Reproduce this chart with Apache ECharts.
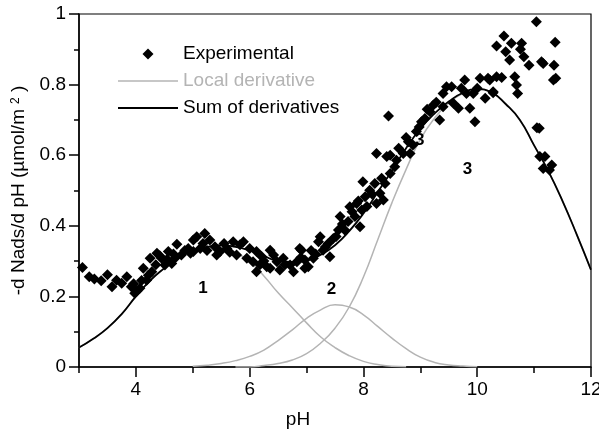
<!DOCTYPE html>
<html><head><meta charset="utf-8">
<script src="https://cdn.jsdelivr.net/npm/echarts@6/dist/echarts.min.js"></script>
<style>html,body{margin:0;padding:0;background:#fff}#c{width:599px;height:431px}</style>
</head><body><div id="c"></div>
<script>
// ---- data ----
const expPH = [
3.06,3.18,3.27,3.39,3.50,3.58,3.66,3.75,3.84,3.92,3.98,4.07,4.13,4.19,4.28,4.25,4.37,4.45,4.51,4.63,4.57,4.72,4.80,4.92,5.01,4.10,4.22,4.35,4.42,4.55,4.66,4.70,4.86,4.96,4.02,3.96,
5.07,5.21,5.30,5.39,5.48,5.71,5.83,5.89,6.00,6.12,6.21,6.36,6.42,6.48,6.59,6.71,6.88,6.83,6.97,6.12,6.30,6.53,5.01,5.13,5.42,5.60,5.77,5.95,6.06,6.36,6.77,5.18,5.25,5.55,5.65,6.18,6.25,6.62,6.90,
6.91,6.97,7.03,7.12,7.21,7.29,7.38,7.41,7.47,7.56,7.59,7.67,7.73,7.85,7.88,7.94,7.97,8.03,7.99,8.11,8.20,8.29,8.35,8.23,8.38,8.47,8.55,8.41,8.23,7.24,7.76,8.44,7.08,7.16,7.33,7.52,7.63,7.80,7.91,8.06,8.15,8.32,
8.47,8.58,8.70,8.79,8.87,8.93,9.02,9.08,9.17,9.23,9.34,9.40,9.46,9.55,9.58,9.67,9.78,9.87,9.96,9.81,9.93,10.05,10.14,10.19,10.28,10.34,9.40,8.82,8.62,8.75,8.98,9.12,9.28,9.72,10.00,
11.04,10.47,10.34,10.60,10.50,10.78,10.76,10.57,10.82,10.91,11.16,11.35,11.37,11.34,10.22,10.43,10.66,10.69,10.71,10.28,11.09,11.10,11.19,11.16,11.31,11.27,11.13,11.38,11.05
];
const expVal = [
0.282,0.256,0.249,0.244,0.261,0.227,0.246,0.237,0.256,0.227,0.209,0.223,0.280,0.246,0.270,0.308,0.322,0.308,0.289,0.293,0.327,0.348,0.317,0.336,0.360,0.245,0.260,0.290,0.315,0.305,0.320,0.310,0.330,0.322,0.215,0.236,
0.369,0.378,0.360,0.341,0.327,0.355,0.346,0.355,0.336,0.327,0.313,0.331,0.317,0.298,0.308,0.289,0.336,0.298,0.280,0.270,0.284,0.275,0.327,0.336,0.317,0.336,0.317,0.308,0.298,0.280,0.270,0.350,0.330,0.350,0.325,0.290,0.300,0.290,0.310,
0.331,0.303,0.284,0.308,0.355,0.331,0.350,0.312,0.364,0.388,0.426,0.388,0.412,0.426,0.463,0.397,0.445,0.482,0.525,0.501,0.520,0.492,0.473,0.463,0.520,0.548,0.567,0.596,0.605,0.369,0.454,0.711,0.330,0.320,0.340,0.370,0.405,0.440,0.470,0.455,0.490,0.535,
0.600,0.586,0.605,0.638,0.629,0.667,0.695,0.704,0.723,0.742,0.700,0.737,0.794,0.794,0.747,0.733,0.813,0.733,0.695,0.775,0.775,0.818,0.761,0.818,0.780,0.822,0.775,0.605,0.620,0.650,0.680,0.730,0.750,0.790,0.790,
0.978,0.938,0.909,0.917,0.893,0.917,0.900,0.870,0.879,0.855,0.860,0.855,0.920,0.813,0.813,0.820,0.822,0.799,0.775,0.777,0.676,0.596,0.596,0.562,0.572,0.558,0.865,0.818,0.678
];
const curvePH = [3.0,3.25,3.5,3.75,4.0,4.25,4.5,4.75,5.0,5.25,5.5,5.75,6.0,6.25,6.5,6.75,7.0,7.25,7.5,7.75,8.0,8.25,8.5,8.75,9.0,9.25,9.5,9.75,10.0,10.25,10.5,10.75,11.0,11.25,11.5,11.75,12.0];
const sumVal = [0.055,0.08,0.11,0.15,0.2,0.245,0.28,0.31,0.33,0.34,0.345,0.34,0.33,0.315,0.3,0.298,0.302,0.318,0.345,0.385,0.435,0.495,0.556,0.62,0.675,0.718,0.752,0.777,0.787,0.778,0.745,0.70,0.628,0.555,0.47,0.375,0.275];
const local1Val = [0.055,0.08,0.11,0.15,0.2,0.245,0.28,0.31,0.328,0.338,0.34,0.325,0.298,0.258,0.21,0.168,0.125,0.085,0.055,0.032,0.016,0.007,0.002,0.001,null,null,null,null,null,null,null,null,null,null,null,null,null];
const local2Val = [null,null,null,null,null,null,null,null,0.002,0.005,0.01,0.018,0.03,0.048,0.075,0.105,0.138,0.162,0.176,0.17,0.148,0.115,0.082,0.052,0.028,0.013,0.006,0.003,0.001,null,null,null,null,null,null,null,null];
const local3Val = [null,null,null,null,null,null,null,null,null,null,null,0.0,0.0,0.004,0.01,0.02,0.038,0.068,0.11,0.17,0.255,0.36,0.465,0.56,0.645,0.705,0.748,0.775,0.787,0.778,0.745,0.70,0.628,0.555,0.47,0.375,0.275];
const xMajorTicks = [4,6,8,10,12];
const xMinorTicks = [3,5,7,9,11];
const annoText = ['1','2','3','3'];
const annoPH = [5.18,7.44,8.99,9.83];
const annoVal = [0.222,0.22,0.643,0.56];

// ---- build ----
const pairs = (xs, ys) => xs.map((x,i)=>[x, ys[i]]).filter(p=>p[1]!==null);
const FONT = 'Liberation Sans, Arial, Helvetica, sans-serif';
const GRAY = '#b4b4b4';
const chart = echarts.init(document.getElementById('c'), null, {renderer:'canvas'});
const localLine = (vals) => ({
  name:'Local derivative', type:'line', data:pairs(curvePH, vals), smooth:true,
  symbol:'none', lineStyle:{color:GRAY, width:1.5}, itemStyle:{color:GRAY}, z:2, animation:false
});
chart.setOption({
  animation:false,
  textStyle:{fontFamily:FONT},
  grid:{left:79, right:8, top:14, bottom:64, show:true, borderColor:'#000', borderWidth:1.2,
        backgroundColor:'transparent', containLabel:false, outerBoundsMode:'none'},
  legend:{
    orient:'vertical', left:113, top:39, itemWidth:60, itemHeight:11, itemGap:7,
    symbolKeepAspect:true,
    textStyle:{fontFamily:FONT, fontSize:19, color:'#000', lineHeight:20},
    data:[
      {name:'Experimental', icon:'path://M5,0L10,5L5,10L0,5Z', itemStyle:{color:'#000', opacity:1}},
      {name:'Local derivative', icon:'path://M0,0H60V1.5H0Z', textStyle:{color:GRAY}, itemStyle:{color:GRAY}},
      {name:'Sum of derivatives', icon:'path://M0,0H60V2H0Z', itemStyle:{color:'#000'}}
    ]
  },
  xAxis:[{
    type:'value', min:3, max:12, interval:1, position:'bottom',
    name:'pH', nameLocation:'middle', nameGap:43,
    nameTextStyle:{fontFamily:FONT, fontSize:19, color:'#000', padding:[0,74,0,0]},
    axisLine:{show:true, onZero:false, lineStyle:{color:'#000', width:1.5}},
    axisTick:{show:true, length:10, customValues:xMajorTicks, lineStyle:{color:'#000', width:1.5}},
    axisLabel:{show:true, customValues:xMajorTicks, fontSize:19, color:'#000', margin:13, fontFamily:FONT},
    splitLine:{show:false}
  },{
    type:'value', min:3, max:12, interval:1, position:'bottom',
    axisLine:{show:false},
    axisTick:{show:true, length:6, customValues:xMinorTicks, lineStyle:{color:'#000', width:1.5}},
    axisLabel:{show:false}, splitLine:{show:false}
  }],
  yAxis:{
    type:'value', min:0, max:1, interval:0.2,
    name:'-d Nads/d pH (µmol/m{s|2}{r| )}', nameLocation:'middle', nameRotate:90, nameGap:46,
    nameTextStyle:{fontFamily:FONT, fontSize:19, color:'#000',
      rich:{s:{fontSize:12, fontFamily:FONT, color:'#000', verticalAlign:'top', padding:[0,0,0,5]}, r:{fontSize:19, fontFamily:FONT, color:'#000'}}},
    axisLine:{show:true, onZero:false, lineStyle:{color:'#000', width:1.5}},
    axisTick:{show:true, length:10, lineStyle:{color:'#000', width:1.5}},
    minorTick:{show:true, splitNumber:2, length:5, lineStyle:{color:'#000', width:1.5}},
    axisLabel:{fontSize:19, color:'#000', margin:13, fontFamily:FONT},
    splitLine:{show:false}, minorSplitLine:{show:false}
  },
  series:[
    localLine(local1Val), localLine(local2Val), localLine(local3Val),
    {name:'Sum of derivatives', type:'line', data:pairs(curvePH, sumVal), smooth:true, symbol:'none',
     lineStyle:{color:'#000', width:1.8}, itemStyle:{color:'#000'}, z:3,
     markPoint:{symbol:'circle', symbolSize:1, itemStyle:{color:'rgba(0,0,0,0)'},
       label:{show:true, position:'inside', formatter:p=>p.name, fontSize:17, fontWeight:'bold', color:'#000', fontFamily:FONT},
       data: annoText.map((t,i)=>({name:t, coord:[annoPH[i], annoVal[i]]}))}
    },
    {name:'Experimental', type:'scatter', data:pairs(expPH, expVal), symbol:'diamond', symbolSize:11,
     itemStyle:{color:'#000', opacity:1}, z:5}
  ]
});
</script></body></html>
